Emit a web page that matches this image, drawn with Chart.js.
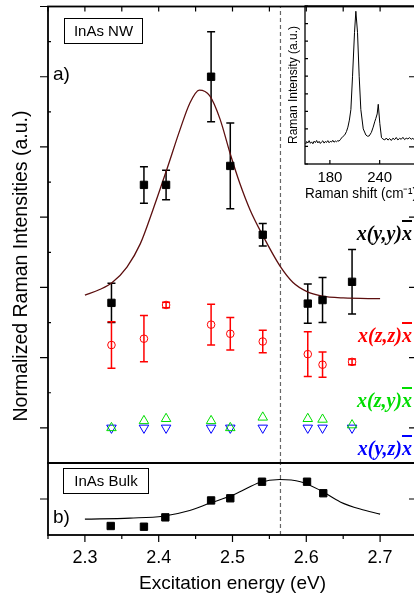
<!DOCTYPE html>
<html>
<head>
<meta charset="utf-8">
<script src="https://cdn.jsdelivr.net/npm/chart.js@4.4.0/dist/chart.umd.min.js"></script>
<style>
  html, body { margin: 0; padding: 0; background: #fff; }
  #page { position: relative; width: 414px; height: 600px; overflow: hidden; font-family: "Liberation Sans", Arial, sans-serif; }
  canvas { position: absolute; }
  .box { position: absolute; border: 1px solid #000; font-size: 15px; line-height: 24px; text-align: center; box-sizing: border-box; }
  .tag { position: absolute; font-size: 19px; line-height: 18px; }
  .pol { position: absolute; right: 2px; font: italic bold 20px "Liberation Serif", "Times New Roman", serif; line-height: 22px; white-space: nowrap; }
  .bar { text-decoration: overline; }
  #ytitle { position: absolute; left: -180px; top: 254px; width: 400px; height: 24px; line-height: 24px; text-align: center; font-size: 19.5px; transform: rotate(-90deg); }
</style>
</head>
<body>
<div id="page">
  <canvas id="panelA" width="424" height="470" style="left:0;top:0"></canvas>
  <canvas id="panelB" width="424" height="144" style="left:0;top:456px"></canvas>
  <canvas id="inset" width="164" height="215" style="left:260px;top:0"></canvas>

  <div class="box" style="left:64px;top:18px;width:79px;height:26px">InAs NW</div>
  <div class="tag" style="left:53px;top:65px">a)</div>
  <div class="box" style="left:63px;top:468px;width:86px;height:26px">InAs Bulk</div>
  <div class="tag" style="left:53px;top:508px">b)</div>

  <div class="pol" style="top:222px;color:#000">x(y,y)<span class="bar">x</span></div>
  <div class="pol" style="top:324px;color:#ff0000">x(z,z)<span class="bar">x</span></div>
  <div class="pol" style="top:389px;color:#00dd00">x(z,y)<span class="bar">x</span></div>
  <div class="pol" style="top:437px;color:#0000ff">x(y,z)<span class="bar">x</span></div>

  <div id="ytitle">Normalized Raman Intensities (a.u.)</div>
</div>

<script>
// excitation energies (eV) of the nanowire measurements
var energies = [2.336, 2.380, 2.410, 2.471, 2.497, 2.541, 2.602, 2.622, 2.662];
var yyVals = [1.78, 3.46, 3.46, 5.00, 3.73, 2.75, 1.77, 1.82, 2.08];
var yyErr  = [0.28, 0.26, 0.21, 0.64, 0.61, 0.16, 0.28, 0.32, 0.46];
var zzVals = [1.18, 1.27, 1.75, 1.47, 1.34, 1.23, 1.05, 0.90, 0.94];
var zzErr  = [0.33, 0.33, 0.04, 0.29, 0.23, 0.16, 0.32, 0.18, 0.04];
var zyVals = [0.00, 0.10, 0.13, 0.10, 0.00, 0.15, 0.13, 0.12, 0.04];
var yzVals = [0.00, 0.00, 0.00, 0.00, 0.00, 0.00, 0.00, 0.00, 0.00];

// fit curve through the x(y,y)x points
var fitAx = [2.300, 2.320, 2.337, 2.357, 2.375, 2.392, 2.411, 2.429, 2.442, 2.455, 2.469, 2.483, 2.497, 2.510, 2.524, 2.540, 2.564, 2.582, 2.601, 2.620, 2.650, 2.700];
var fitAy = [1.89, 1.97, 2.07, 2.29, 2.62, 3.10, 3.68, 4.25, 4.62, 4.81, 4.73, 4.40, 3.90, 3.48, 3.10, 2.76, 2.31, 2.07, 1.94, 1.88, 1.85, 1.84];

// bulk InAs
var bulkEnergies = [2.335, 2.380, 2.409, 2.471, 2.497, 2.540, 2.601, 2.623];
var bulkVals = [0.125, 0.115, 0.245, 0.48, 0.51, 0.74, 0.74, 0.58];
var fitBx = [2.300, 2.361, 2.406, 2.442, 2.469, 2.483, 2.497, 2.510, 2.537, 2.564, 2.592, 2.619, 2.646, 2.673, 2.700];
var fitBy = [0.22, 0.235, 0.26, 0.34, 0.44, 0.49, 0.54, 0.60, 0.73, 0.77, 0.74, 0.62, 0.46, 0.36, 0.29];

var vLine = 2.565;
var xTicks = [2.3, 2.4, 2.5, 2.6, 2.7];

// inset spectrum
var ramanShift = [150.8, 152, 153.5, 155, 156.5, 158, 159.5, 161, 162.5, 164, 165.5, 167, 168.5, 170, 171.5, 173, 174.5, 176, 177.5, 179,
  180.5, 182, 183.5, 185, 186.5, 188, 189.5, 191, 192.5, 194, 196, 198, 200, 201.7, 203.5, 205.3, 207.3, 209.7, 211.3, 213.3,
  215.3, 217.3, 220.2, 223.4, 225.5, 227.4, 230, 232.2, 234, 235.4, 237, 238.3, 240.2, 242.2, 244, 246.2, 248, 250, 252, 254,
  256, 258, 260, 262, 264, 266, 268, 270, 272, 274, 276, 278, 280, 282, 284];
var ramanInt = [1.14, 1.28, 1.20, 1.33, 1.18, 1.26, 1.15, 1.30, 1.22, 1.34, 1.20, 1.29, 1.17, 1.26, 1.32, 1.19, 1.28, 1.23, 1.33, 1.21,
  1.29, 1.25, 1.35, 1.24, 1.31, 1.27, 1.33, 1.30, 1.38, 1.48, 1.58, 1.66, 1.85, 2.10, 2.50, 3.10, 5.00, 7.50, 8.70, 7.50,
  5.00, 3.10, 2.00, 1.65, 1.58, 1.60, 1.80, 2.10, 2.40, 2.60, 2.85, 3.40, 2.30, 1.50, 1.42, 1.37, 1.48, 1.36, 1.45, 1.34,
  1.47, 1.39, 1.51, 1.37, 1.46, 1.41, 1.52, 1.39, 1.47, 1.43, 1.50, 1.41, 1.46, 1.37, 1.44];
var insetTicks = [180, 240];

Chart.defaults.font.family = '"Liberation Sans", Arial, sans-serif';
Chart.defaults.color = '#000';

function pairs(xs, ys) {
  return xs.map(function (x, i) { return { x: x, y: ys[i] }; });
}

function steps(a, b, d) {
  var out = [];
  for (var v = a; v <= b + 1e-9; v += d) out.push(Math.round(v * 1000) / 1000);
  return out;
}

// box round the plot area plus the small tick marks (len > 0 points inward)
function makeFrame(cfg) {
  return {
    id: 'frame',
    afterDraw: function (chart) {
      var ctx = chart.ctx, a = chart.chartArea;
      var sx = chart.scales.x, sy = chart.scales.y;
      ctx.save();
      ctx.strokeStyle = '#000';
      ctx.lineWidth = cfg.width;
      ctx.strokeRect(a.left, a.top, a.right - a.left, a.bottom - a.top);
      ctx.lineWidth = 1.2;
      ctx.beginPath();
      (cfg.left || []).forEach(function (t) {
        t.at.forEach(function (v) { var p = sy.getPixelForValue(v); ctx.moveTo(a.left, p); ctx.lineTo(a.left + t.len, p); });
      });
      (cfg.right || []).forEach(function (t) {
        t.at.forEach(function (v) { var p = sy.getPixelForValue(v); ctx.moveTo(a.right, p); ctx.lineTo(a.right - t.len, p); });
      });
      (cfg.top || []).forEach(function (t) {
        t.at.forEach(function (v) { var p = sx.getPixelForValue(v); ctx.moveTo(p, a.top); ctx.lineTo(p, a.top + t.len); });
      });
      (cfg.bottom || []).forEach(function (t) {
        t.at.forEach(function (v) { var p = sx.getPixelForValue(v); ctx.moveTo(p, a.bottom); ctx.lineTo(p, a.bottom - t.len); });
      });
      ctx.stroke();
      ctx.restore();
    }
  };
}

// vertical error bars with caps, for datasets that carry an "errors" array
var errorBars = {
  id: 'errorBars',
  beforeDatasetsDraw: function (chart) {
    var ctx = chart.ctx, sx = chart.scales.x, sy = chart.scales.y;
    chart.data.datasets.forEach(function (ds) {
      if (!ds.errors) return;
      ctx.save();
      ctx.strokeStyle = ds.borderColor;
      ctx.lineWidth = 1.5;
      ctx.beginPath();
      ds.data.forEach(function (p, i) {
        var px = sx.getPixelForValue(p.x);
        var top = sy.getPixelForValue(p.y + ds.errors[i]);
        var bot = sy.getPixelForValue(p.y - ds.errors[i]);
        ctx.moveTo(px, top); ctx.lineTo(px, bot);
        ctx.moveTo(px - 4, top); ctx.lineTo(px + 4, top);
        ctx.moveTo(px - 4, bot); ctx.lineTo(px + 4, bot);
      });
      ctx.stroke();
      ctx.restore();
    });
  }
};

var common = {
  responsive: false,
  animation: false,
  devicePixelRatio: 1,
  events: [],
  plugins: { legend: { display: false }, tooltip: { enabled: false } }
};

// panel a) nanowire
new Chart(document.getElementById('panelA'), {
  type: 'scatter',
  data: {
    datasets: [
      { data: pairs(energies, yyVals), errors: yyErr, pointStyle: 'rect', pointRadius: 5.2,
        backgroundColor: '#000', borderColor: '#000', borderWidth: 1 },
      { data: pairs(energies, zzVals), errors: zzErr, pointStyle: 'circle', pointRadius: 3.8,
        backgroundColor: 'rgba(0,0,0,0)', borderColor: '#ff0000', borderWidth: 1 },
      { data: pairs(energies, zyVals), pointStyle: 'triangle', pointRadius: 5.5,
        backgroundColor: 'rgba(0,0,0,0)', borderColor: '#00dd00', borderWidth: 1 },
      { data: pairs(energies, yzVals), pointStyle: 'triangle', pointRotation: 180, pointRadius: 5.5,
        backgroundColor: 'rgba(0,0,0,0)', borderColor: '#0000ff', borderWidth: 1 },
      { data: pairs(fitAx, fitAy), showLine: true, pointRadius: 0, borderColor: '#5c0f0f',
        borderWidth: 1.3, cubicInterpolationMode: 'monotone' },
      { data: [{ x: vLine, y: -0.5 }, { x: vLine, y: 6 }], showLine: true, pointRadius: 0,
        borderColor: '#666', borderWidth: 1.2, borderDash: [4, 3] }
    ]
  },
  options: Object.assign({}, common, {
    layout: { padding: { left: 48, top: 6, right: 7, bottom: 7 } },
    scales: {
      x: { type: 'linear', min: 2.25, max: 2.75, display: false },
      y: { min: -0.5, max: 6, display: false }
    }
  }),
  plugins: [errorBars, makeFrame({
    width: 1.8,
    left: [{ at: steps(0, 6, 1), len: -8 }, { at: steps(0.5, 5.5, 1), len: 3 }],
    right: [{ at: steps(0, 6, 1), len: 8 }],
    top: [{ at: steps(2.25, 2.75, 0.05), len: 5 }]
  })]
});

// panel b) bulk, carries the shared energy axis
new Chart(document.getElementById('panelB'), {
  type: 'scatter',
  data: {
    datasets: [
      { data: pairs(bulkEnergies, bulkVals), pointStyle: 'rect', pointRadius: 5.2,
        backgroundColor: '#000', borderColor: '#000', borderWidth: 1 },
      { data: pairs(fitBx, fitBy), showLine: true, pointRadius: 0, borderColor: '#000',
        borderWidth: 1.1, cubicInterpolationMode: 'monotone' },
      { data: [{ x: vLine, y: 0 }, { x: vLine, y: 1 }], showLine: true, pointRadius: 0,
        borderColor: '#666', borderWidth: 1.2, borderDash: [4, 3] }
    ]
  },
  options: Object.assign({}, common, {
    layout: { padding: { left: 48, top: 7, right: 7, bottom: 0 } },
    scales: {
      x: {
        type: 'linear', min: 2.25, max: 2.75,
        afterBuildTicks: function (s) { s.ticks = xTicks.map(function (v) { return { value: v }; }); },
        afterFit: function (s) { s.height = 65; },
        grid: { display: false, drawTicks: false },
        border: { display: false },
        ticks: { padding: 12, maxRotation: 0, font: { size: 18 }, color: '#000',
          callback: function (v) { return v.toFixed(1); } },
        title: { display: true, text: 'Excitation energy (eV)', font: { size: 19 }, color: '#000',
          padding: { top: 0, bottom: 5 } }
      },
      y: { min: 0, max: 1, display: false }
    }
  }),
  plugins: [makeFrame({
    width: 1.8,
    left: [{ at: [0.5], len: -8 }],
    right: [{ at: [0.5], len: 8 }],
    bottom: [{ at: steps(2.3, 2.7, 0.1), len: -7 }, { at: steps(2.25, 2.75, 0.1), len: -4 }]
  })]
});

// inset: Raman spectrum
new Chart(document.getElementById('inset'), {
  type: 'scatter',
  data: {
    datasets: [
      { data: pairs(ramanShift, ramanInt), showLine: true, pointRadius: 0, borderColor: '#000', borderWidth: 1 }
    ]
  },
  options: Object.assign({}, common, {
    layout: { padding: { left: 0, top: 6, right: 7, bottom: 0 } },
    scales: {
      x: {
        type: 'linear', min: 150, max: 285,
        afterBuildTicks: function (s) { s.ticks = insetTicks.map(function (v) { return { value: v }; }); },
        afterFit: function (s) { s.height = 51; },
        grid: { display: false, drawTicks: false },
        border: { display: false },
        ticks: { padding: 5, maxRotation: 0, font: { size: 15 }, color: '#000' },
        title: { display: true, text: 'Raman shift (cm\u207b\u00b9)', font: { size: 15 }, color: '#000',
          padding: { top: 0, bottom: 12 } }
      },
      y: {
        min: 0, max: 9,
        afterFit: function (s) { s.width = 45; },
        grid: { display: false, drawTicks: false },
        border: { display: false },
        ticks: { display: false },
        title: { display: true, text: 'Raman Intensity (a.u.)', font: { size: 12 }, color: '#000',
          padding: { top: 26, bottom: 0 } }
      }
    }
  }),
  plugins: [makeFrame({
    width: 1.3,
    left: [{ at: steps(0, 9, 1), len: 3 }],
    bottom: [{ at: insetTicks, len: 4 }]
  })]
});
</script>
</body>
</html>
